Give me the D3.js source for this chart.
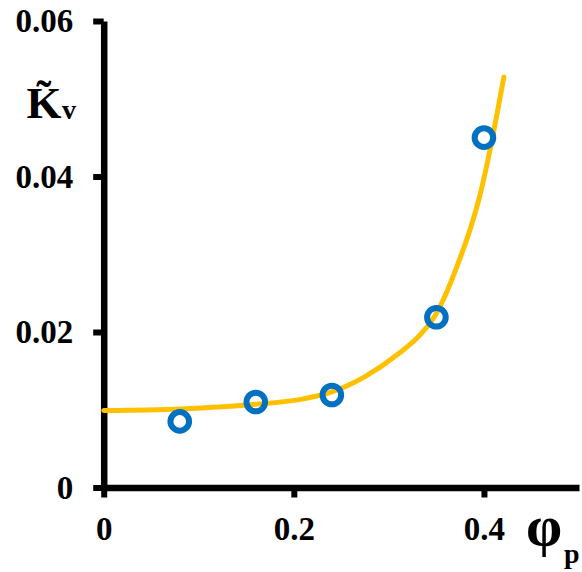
<!DOCTYPE html>
<html>
<head>
<meta charset="utf-8">
<script src="https://cdn.jsdelivr.net/npm/d3@7/dist/d3.min.js"></script>
<style>
  html, body { margin: 0; padding: 0; background: #fff; }
  svg { display: block; }
  text { font-family: "Liberation Serif", "Times New Roman", serif; font-weight: bold; fill: #000; }
</style>
</head>
<body>
<svg id="chart" width="582" height="572"></svg>
<script>
// ---- data ----
const pointX = [0.08, 0.16, 0.24, 0.35, 0.40];
const pointY = [0.0085, 0.011, 0.0119, 0.0219, 0.045];

const curveX = [0, 0.08, 0.16, 0.21, 0.24, 0.274, 0.309, 0.334, 0.348, 0.36, 0.374, 0.386, 0.396, 0.404, 0.409, 0.414, 0.421];
const curveY = [0.0099, 0.0101, 0.0107, 0.0114, 0.0123, 0.0142, 0.0171, 0.0198, 0.0220, 0.0249, 0.0292, 0.0334, 0.0377, 0.0420, 0.0450, 0.0482, 0.0528];

const xTicks = [0, 0.2, 0.4];
const xTickLabels = ["0", "0.2", "0.4"];
const yTicks = [0, 0.02, 0.04, 0.06];
const yTickLabels = ["0", "0.02", "0.04", "0.06"];

// ---- scales ----
const svg = d3.select("#chart");
const x = d3.scaleLinear().domain([0, 0.5]).range([103.7, 579]);
const y = d3.scaleLinear().domain([0, 0.06]).range([487.5, 21]);

// ---- axes ----
const xAxis = d3.axisBottom(x)
  .tickValues(xTicks)
  .tickFormat((d, i) => xTickLabels[i])
  .tickSize(10).tickSizeOuter(0).tickPadding(19);
const yAxis = d3.axisLeft(y)
  .tickValues(yTicks)
  .tickFormat((d, i) => yTickLabels[i])
  .tickSize(10.5).tickSizeOuter(0).tickPadding(20);

const gx = svg.append("g").attr("transform", `translate(0,${y(0)})`).call(xAxis);
const gy = svg.append("g").attr("transform", `translate(${x(0)},0)`).call(yAxis);

[gx, gy].forEach(g => {
  g.select(".domain").attr("stroke", "#000").attr("stroke-width", 6.5);
  g.selectAll(".tick line").attr("stroke", "#000").attr("stroke-width", 6);
  g.selectAll(".tick text")
    .attr("fill", "#000")
    .style("font-family", '"Liberation Serif", "Times New Roman", serif')
    .style("font-weight", "bold")
    .style("font-size", "33px");
});

// ---- curve ----
const line = d3.line()
  .x((d, i) => x(curveX[i]))
  .y((d, i) => y(curveY[i]))
  .curve(d3.curveMonotoneX);

svg.append("path")
  .attr("d", line(curveX))
  .attr("fill", "none")
  .attr("stroke", "#FFC000")
  .attr("stroke-width", 5)
  .attr("stroke-linecap", "round");

// ---- points ----
svg.selectAll("circle.pt")
  .data(pointX)
  .enter().append("circle")
  .attr("class", "pt")
  .attr("cx", (d) => x(d))
  .attr("cy", (d, i) => y(pointY[i]))
  .attr("r", 9.3)
  .attr("fill", "none")
  .attr("stroke", "#0070C0")
  .attr("stroke-width", 6);

// ---- axis titles ----
// y: K with combining tilde, subscript v
const ky = svg.append("text").attr("x", 26.5).attr("y", 118).style("font-size", "45px");
ky.append("tspan").text("K\u0303");
ky.append("tspan").attr("x", 62).attr("y", 119).style("font-size", "28px").text("v");

// x: phi with subscript p
const px = svg.append("text").attr("x", 526).attr("y", 545).style("font-size", "58px");
px.append("tspan").text("φ");
px.append("tspan").attr("x", 564).attr("y", 563).style("font-size", "28px").text("p");
</script>
</body>
</html>
